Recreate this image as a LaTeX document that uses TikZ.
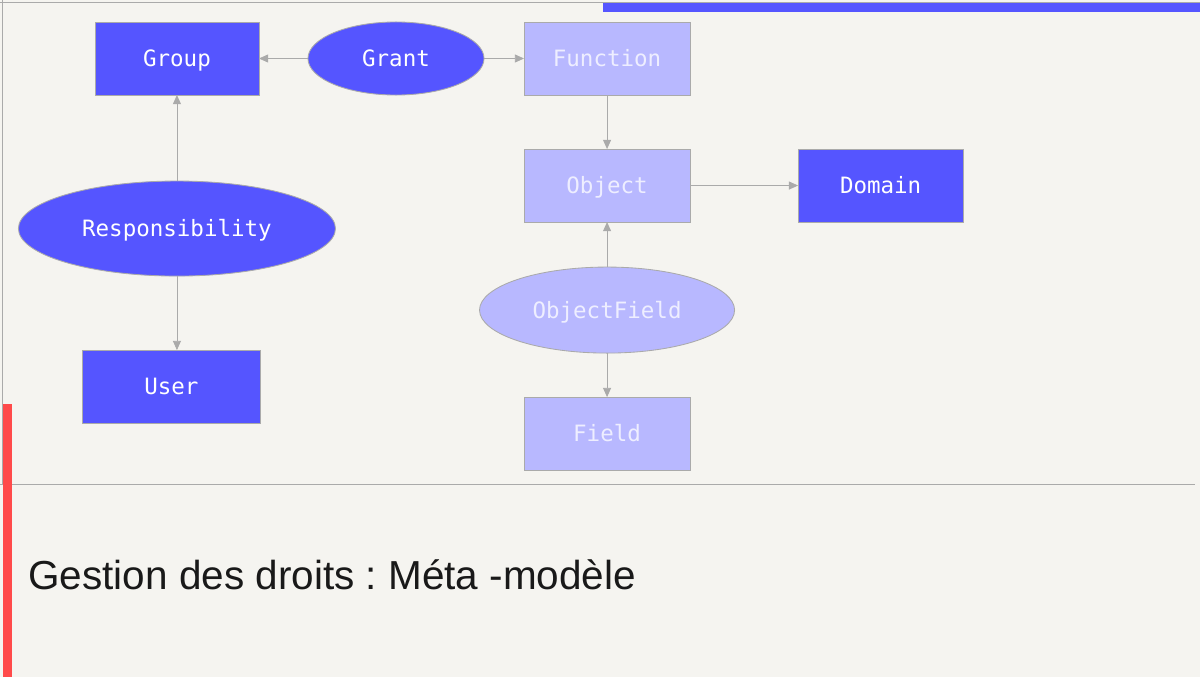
\documentclass[tikz,border=0pt]{standalone}
\usepackage{fontspec}
\setmainfont{Liberation Sans}
\setmonofont{DejaVu Sans Mono}
\usetikzlibrary{positioning}
\usetikzlibrary{shapes.geometric}
\usetikzlibrary{arrows.meta}
\definecolor{bgcream}{HTML}{F5F4F0}
\definecolor{darkblue}{HTML}{5555FF}
\definecolor{lightblue}{HTML}{B8B8FF}
\definecolor{edgegray}{HTML}{AAAAAA}
\definecolor{redbar}{HTML}{FF4A4A}
\definecolor{lighttext}{HTML}{EEEEFF}
\frenchspacing

\begin{document}
\begin{tikzpicture}[
                x = 0.025cm, y = -0.025cm,
                box/.style = {
                    draw = edgegray,
                    rectangle,
                    fill = #1,
                    line width = 0.6pt,
                    minimum width = 4.15cm,
                    minimum height = 1.825cm,
                    inner sep = 0pt,
                    outer sep = 0pt,
                    text = white,
                    text height = 14.5pt,
                    text depth = 3pt,
                    font = \ttfamily\fontsize{16}{18}\selectfont
                },
                box/.default = darkblue,
                oval/.style = {
                    draw = edgegray,
                    ellipse,
                    fill = #1,
                    line width = 0.6pt,
                    inner sep = 0pt,
                    outer sep = 0pt,
                    text = white,
                    text height = 14.5pt,
                    text depth = 3pt,
                    font = \ttfamily\fontsize{16}{18}\selectfont
                },
                oval/.default = darkblue,
                link/.style = {
                    draw = edgegray,
                    line width = 0.6pt,
                    -{Triangle[length=2.3mm, width=2mm]}
                },
                node distance = {1cm}
            ]

            \useasboundingbox (0,0) rectangle (1200,677);
            \fill[bgcream] (0,0) rectangle (1200,677);
            % frame of the slide
            \draw[edgegray] (0,2) -- (1200,2);
            \draw[edgegray] (2,0) -- (2,485);
            \draw[edgegray] (0,484.5) -- (1195,484.5);
            \fill[darkblue] (603,3) rectangle (1200,12);
            \fill[redbar] (3,404) rectangle (12,677);

            \node[oval, minimum width=4.4cm, minimum height=1.825cm] (grant) at (396,58.5) {Grant};
            \node[box, minimum width=4.1cm] (group) [left=1.225cm of grant] {Group};
            \node[box=lightblue, text=lighttext, right=of grant] (function) {Function};

            \node[box=lightblue, text=lighttext] (object) [below=1.35cm of function] {Object};
            \node[box, minimum width=4.125cm] (domain) [right=2.7cm of object] {Domain};

            \node[oval=lightblue, text=lighttext, minimum width=6.375cm, minimum height=2.15cm] (objfield) [below=1.125cm of object] {ObjectField};
            \node[box=lightblue, text=lighttext] (field) [below=1.1cm of objfield] {Field};

            \node[oval, minimum width=7.925cm, minimum height=2.375cm] (resp) [below=2.15cm of group] {Responsibility};
            \node[box, minimum width=4.425cm, xshift=-0.1375cm] (user) [below=1.85cm of resp] {User};

            \draw[link] (grant) -- (group);
            \draw[link] (grant) -- (function);
            \draw[link] (resp) -- (group);
            \draw[link] (resp) -- (resp |- user.north);

            \draw[link] (function) -- (object);
            \draw[link] (object) -- (domain);
            \draw[link] (objfield) -- (object);
            \draw[link] (objfield) -- (field);

            \node[anchor=base west, inner sep=0pt, text=black!90, font=\fontsize{28.8}{32}\selectfont] (title) at (28,589) {Gestion des droits : Méta -modèle};

         \end{tikzpicture}
\end{document}
